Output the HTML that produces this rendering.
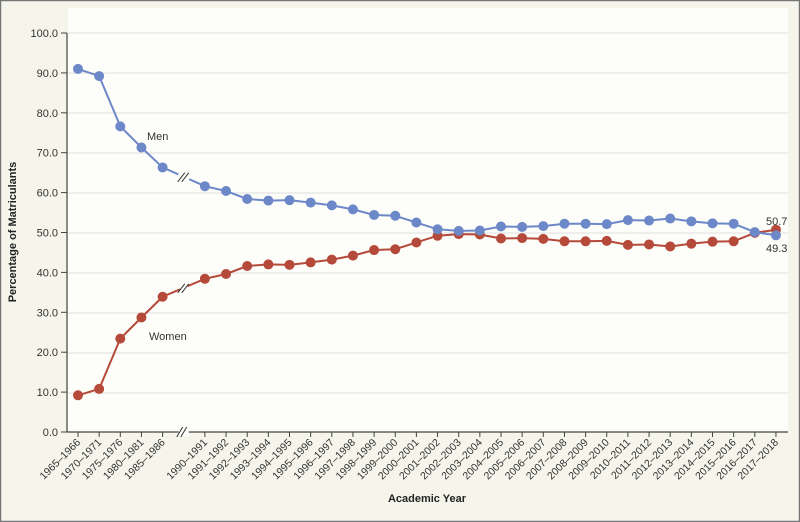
<!DOCTYPE html>
<html><head><meta charset="utf-8"><style>
html,body{margin:0;padding:0;background:#f6f5ec}
svg{display:block;font-family:"Liberation Sans",sans-serif}
</style></head><body>
<svg width="800" height="522" viewBox="0 0 800 522" xmlns="http://www.w3.org/2000/svg">
<rect x="0.5" y="0.5" width="799" height="521" fill="#f6f5ec" stroke="#777" stroke-width="1.5"/>
<rect x="68" y="8" width="720" height="424" fill="#fdfdf9"/>
<g stroke="#dedede" stroke-width="1">
<line x1="68" x2="788" y1="33" y2="33"/><line x1="68" x2="788" y1="73" y2="73"/>
<line x1="68" x2="788" y1="113" y2="113"/><line x1="68" x2="788" y1="153" y2="153"/>
<line x1="68" x2="788" y1="193" y2="193"/><line x1="68" x2="788" y1="233" y2="233"/>
<line x1="68" x2="788" y1="273" y2="273"/><line x1="68" x2="788" y1="313" y2="313"/>
<line x1="68" x2="788" y1="353" y2="353"/><line x1="68" x2="788" y1="393" y2="393"/>
</g>
<g stroke="#444" stroke-width="1.2" fill="none">
<line x1="67" y1="33" x2="67" y2="432"/><line x1="67" y1="432" x2="788" y2="432"/>
</g>
<g id="ax"></g>
<g id="series"></g>
<text x="16" y="232" transform="rotate(-90 16 232)" text-anchor="middle" font-size="11" font-weight="bold" fill="#222">Percentage of Matriculants</text>
<text x="427" y="502" text-anchor="middle" font-size="11" font-weight="bold" fill="#222">Academic Year</text>
<text x="147" y="140" font-size="11" fill="#333">Men</text>
<text x="149" y="340" font-size="11" fill="#333">Women</text>
<text x="766" y="225" font-size="11" fill="#333">50.7</text>
<text x="766" y="252" font-size="11" fill="#333">49.3</text>
</svg>
<script>
var ns="http://www.w3.org/2000/svg";
function el(t,a,p){var e=document.createElementNS(ns,t);for(var k in a)e.setAttribute(k,a[k]);(p||document.getElementById('ax')).appendChild(e);return e;}
function X(i){return 78+21.15*i;}
function Y(v){return 432-v*3.99;}
var ax=document.getElementById('ax');
for(var v=0;v<=100;v+=10){el('line',{x1:61,x2:67,y1:Y(v),y2:Y(v),stroke:'#444'});var t=el('text',{x:58,y:Y(v)+4,'text-anchor':'end','font-size':'11',fill:'#333'});t.textContent=v.toFixed(1);}
var labels=["1965–1966","1970–1971","1975–1976","1980–1981","1985–1986",null];
for(var y=1990;y<=2017;y++)labels.push(y+"–"+(y+1));
labels.forEach(function(l,i){if(!l)return;var x=X(i);el('line',{x1:x,x2:x,y1:432,y2:437,stroke:'#444'});var t=el('text',{x:x+3,y:443,'text-anchor':'end','font-size':'10.5',fill:'#333',transform:'rotate(-45 '+(x+3)+' 443)'});t.textContent=l;});
// axis break
el('rect',{x:X(5)-5,y:428,width:10,height:8,fill:'#fdfdf9'});
el('line',{x1:X(5)-7,y1:437,x2:X(5)-1,y2:427,stroke:'#333'});el('line',{x1:X(5)-3,y1:437,x2:X(5)+3,y2:427,stroke:'#333'});
var men=[91.0,89.2,76.6,71.3,66.3,null,61.6,60.4,58.4,58.0,58.1,57.5,56.8,55.8,54.4,54.2,52.5,50.8,50.4,50.5,51.5,51.4,51.6,52.2,52.2,52.1,53.1,53.0,53.5,52.8,52.3,52.2,50.1,49.3];
var wom=[9.2,10.8,23.4,28.7,33.9,null,38.4,39.6,41.6,42.0,41.9,42.5,43.2,44.2,45.6,45.8,47.5,49.2,49.6,49.5,48.5,48.6,48.4,47.8,47.8,47.9,46.9,47.0,46.5,47.2,47.7,47.8,49.9,50.7];
var sg=document.getElementById('series');
function draw(d,c){var pts=[];d.forEach(function(v,i){if(v!==null)pts.push(X(i)+','+Y(v));});
el('polyline',{points:pts.join(' '),fill:'none',stroke:c,'stroke-width':'2'},sg);
var mid=(d[4]+d[6])/2,bx=X(5),by=Y(mid);
el('rect',{x:bx-4,y:by-5,width:8,height:10,fill:'#fdfdf9',transform:'rotate(-30 '+bx+' '+by+')'},sg);
el('line',{x1:bx-6,y1:by+5,x2:bx+1,y2:by-4,stroke:'#333','stroke-width':'1'},sg);
el('line',{x1:bx-2,y1:by+5,x2:bx+5,y2:by-4,stroke:'#333','stroke-width':'1'},sg);
d.forEach(function(v,i){if(v!==null)el('circle',{cx:X(i),cy:Y(v),r:5,fill:c},sg);});}
draw(wom,'#b5493a');draw(men,'#6d88c8');
</script>
</body></html>
